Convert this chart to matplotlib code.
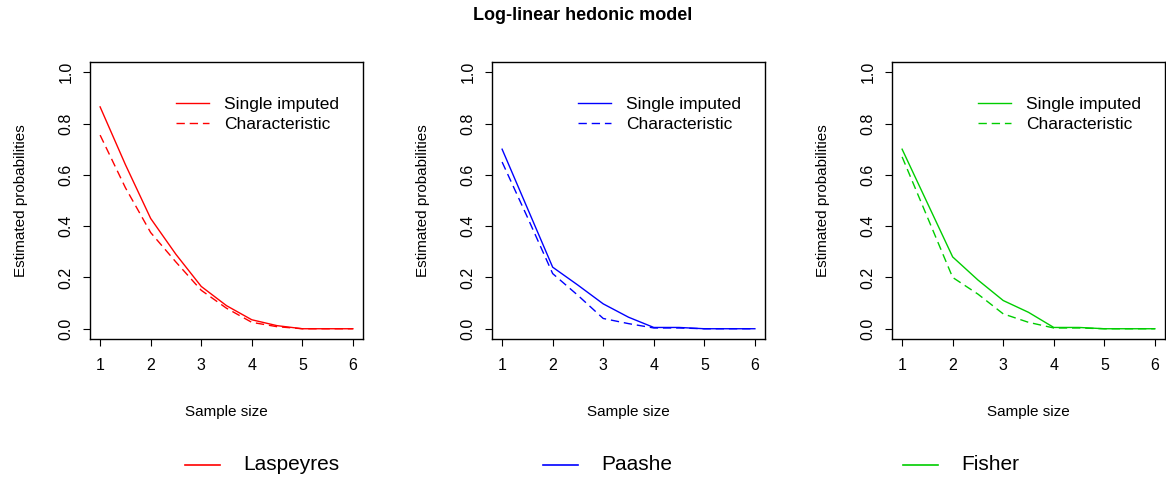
import matplotlib.pyplot as plt
import numpy as np

plt.rcParams['font.family'] = ['Liberation Sans', 'DejaVu Sans']

# sample sizes
sample_size = [1, 1.5, 2, 2.5, 3, 3.5, 4, 4.5, 5, 5.5, 6]

# Laspeyres
lasp_single = [0.865, 0.64, 0.43, 0.29, 0.165, 0.09, 0.035, 0.012, 0.0, 0.0, 0.0]
lasp_char = [0.755, 0.55, 0.375, 0.26, 0.15, 0.08, 0.025, 0.008, 0.0, 0.0, 0.0]
# Paashe
paas_single = [0.70, 0.47, 0.24, 0.17, 0.097, 0.045, 0.005, 0.005, 0.0, 0.0, 0.0]
paas_char = [0.65, 0.435, 0.215, 0.13, 0.04, 0.02, 0.003, 0.003, 0.0, 0.0, 0.0]
# Fisher
fish_single = [0.70, 0.49, 0.28, 0.19, 0.11, 0.064, 0.005, 0.005, 0.0, 0.0, 0.0]
fish_char = [0.67, 0.435, 0.20, 0.135, 0.058, 0.025, 0.003, 0.003, 0.0, 0.0, 0.0]

indices = ['Laspeyres', 'Paashe', 'Fisher']
colores = ['#FF0000', '#0000FF', '#00CD00']
singles = [lasp_single, paas_single, fish_single]
chars = [lasp_char, paas_char, fish_char]

fig = plt.figure(figsize=(11.66, 4.83), dpi=100)
lefts = [90, 492, 892]

for i in range(3):
    ax = fig.add_axes([lefts[i] / 1166, 144 / 483, 273 / 1166, 277 / 483])
    ax.plot(sample_size, singles[i], color=colores[i], lw=1, label='Single imputed')
    ax.plot(sample_size, chars[i], color=colores[i], lw=1, ls=(0, (6, 3.5)), label='Characteristic')
    ax.set_xlim(0.8, 6.2)
    ax.set_ylim(-0.04, 1.04)
    ax.set_xticks([1, 2, 3, 4, 5, 6])
    ax.set_yticks([0.0, 0.2, 0.4, 0.6, 0.8, 1.0])
    ax.set_yticklabels(['0.0', '0.2', '0.4', '0.6', '0.8', '1.0'], rotation=90, va='center')
    ax.tick_params(direction='out', length=5, labelsize=11.5)
    ax.tick_params(axis='x', pad=9)
    ax.tick_params(axis='y', pad=7)
    for s in ax.spines.values():
        s.set_linewidth(1)
    ax.set_xlabel('Sample size', fontsize=11, labelpad=23)
    ax.set_ylabel('Estimated probabilities', fontsize=11, labelpad=22)
    ax.legend(loc='upper right', frameon=False, fontsize=12.5, handlelength=1.95,
              handletextpad=0.85, labelspacing=0.25, bbox_to_anchor=(0.97, 0.93))

fig.suptitle('Log-linear hedonic model', fontsize=13, fontweight='bold', y=0.985)

# bottom legend
for i in range(3):
    x0 = [185, 543, 903][i] / 1166
    y0 = 1 - 465 / 483
    fig.add_artist(plt.Line2D([x0, x0 + 35 / 1166], [y0, y0], color=colores[i], lw=1.2,
                              transform=fig.transFigure))
    fig.text(x0 + 58 / 1166, y0, indices[i], fontsize=15, va='center', ha='left')

plt.savefig('out.png', dpi=100)
plt.close()
